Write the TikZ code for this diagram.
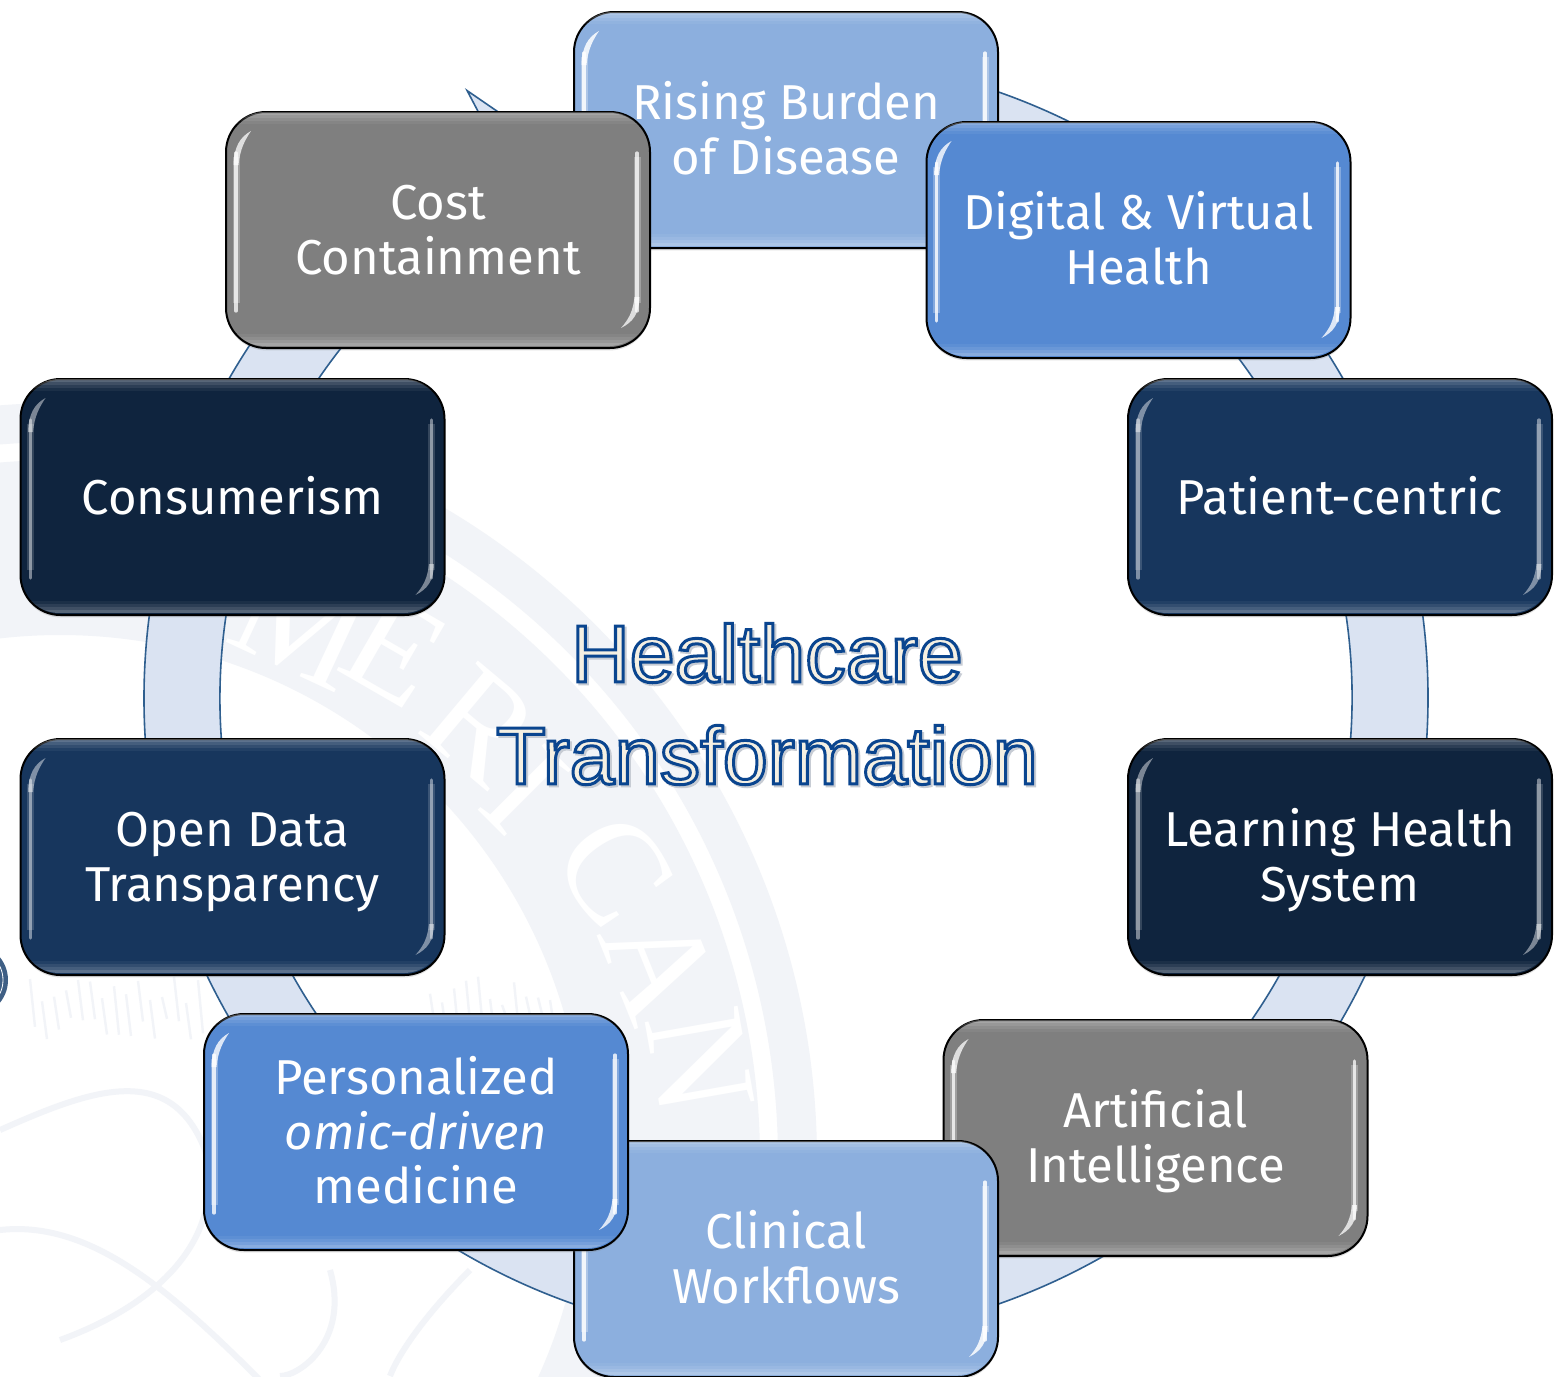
\documentclass[tikz,border=0pt]{standalone}
\usepackage{fontspec}
\setmainfont{Fira Sans}
\newfontfamily\titlefont{Liberation Sans}
\newfontfamily\sealfont{Liberation Serif}
\usepackage{tikz}
\usetikzlibrary{shadows}
\definecolor{risecol}{HTML}{8CAFDE}
\definecolor{digitalcol}{HTML}{5589D2}
\definecolor{patientcol}{HTML}{17365D}
\definecolor{learncol}{HTML}{0F243E}
\definecolor{greycol}{HTML}{7F7F7F}
\definecolor{ringcol}{HTML}{DAE3F2}
\definecolor{ringline}{HTML}{2F5F8F}
\definecolor{sealcol}{HTML}{F2F4F8}
\definecolor{sealdot}{HTML}{3F5F85}
\newcommand{\outlinetext}[3]{\special{pdf:code q 2 Tr 1.5 w #1 RG #2 rg}#3\special{pdf:code Q}}
\newcommand{\topgap}{\rule{0pt}{25pt}}
\begin{document}
\begin{tikzpicture}[x=0.5pt,y=-0.5pt,semithick]
\pgfmathsetseed{7}
\tikzstyle{tile}=[draw=black,line width=1pt,rounded corners=20pt,minimum width=212pt,minimum height=118pt,
  inner sep=0pt,align=center,text=white,font=\fontsize{24.5}{27.3}\selectfont,
  execute at begin node={\rule{0pt}{25pt}},execute at end node={\rule[-8pt]{0pt}{8pt}},
  drop shadow={opacity=.25,shadow xshift=0pt,shadow yshift=-1.2pt}]
\tikzstyle{seal}=[fill=sealcol,draw=none]
\tikzstyle{sealletter}=[text=white,font=\sealfont\fontsize{72}{72}\selectfont,inner sep=0pt]
\tikzstyle{titletext}=[align=center,inner sep=0pt,font=\titlefont\fontsize{40.5}{51}\selectfont]

\path[use as bounding box] (0,0) rectangle (1557,1376);
\fill[white] (0,0) rectangle (1557,1376);

\begin{scope}[shift={(60,1160)},x=0.5pt,y=0.5pt]
\fill[seal,even odd rule] (0,0) circle (757) (0,0) circle (718);
\fill[seal,even odd rule] (0,0) circle (700) (0,0) circle (525);
\end{scope}
\foreach \letter/\px/\py/\rot in {M/300/625/25,E/395/650/30,R/482/725/40,I/525/790/45,C/615/870/55,A/660/965/68,N/700/1062/80}
  \node[sealletter,rotate=-\rot] (seal\letter) at (\px,\py) {\letter};
\foreach \hx in {30,42,...,200,430,442,...,600}
  \draw[sealcol,line width=1.2pt] (\hx,975+30*rnd) -- (\hx+5,1015+25*rnd);
\draw[sealcol,line width=3pt] (0,1130) .. controls (90,1090) and (170,1060) .. (205,1150) .. controls (225,1230) and (170,1300) .. (60,1340);
\draw[sealcol,line width=3pt] (0,1230) .. controls (90,1220) and (170,1290) .. (260,1380);
\draw[sealcol,line width=3pt] (330,1270) .. controls (350,1340) and (300,1376) .. (280,1376);
\draw[sealcol,line width=3pt] (470,1270) .. controls (430,1310) and (400,1350) .. (390,1376);

\fill[sealdot] (-28,980) circle (18pt);
\draw[white,line width=.4pt] (-28,980) circle (15.5pt);

% ring with its head, hidden under the boxes where they overlap
\begin{scope}[shift={(786,698)},x=0.5pt,y=0.5pt]
\draw[fill=ringcol,draw=ringline,line width=0.8pt,line join=miter]
  (88:642) arc (88:-242.3:642) -- (117.7:686) -- (-196,523) -- (117.7:522) -- (117.7:566) arc (-242.3:88:566) -- cycle;
\end{scope}

\foreach \nm/\px/\py/\col/\op/\txt in {
    rising/786/130/risecol/.85/{\topgap Rising Burden\\of Disease},
    digital/1138.5/240/digitalcol/.8/{\topgap Digital \& Virtual\\Health},
    patient/1340/497/patientcol/.45/{Patient-centric},
    learning/1340/857/learncol/.45/{\topgap Learning Health\\System},
    artificial/1155.5/1138/greycol/.75/{\topgap Artificial\\Intelligence},
    clinical/786/1259/risecol/.85/{\topgap Clinical\\Workflows},
    personal/416/1132/digitalcol/.8/{\topgap Personalized\\\textit{omic-driven}\\medicine},
    opendata/232.5/857/patientcol/.45/{\topgap Open Data\\Transparency},
    consumer/232.5/497/learncol/.45/{Consumerism},
    cost/438/230/greycol/.75/{\topgap Cost\\Containment}} {
  \node[tile,fill=\col] (\nm) at (\px,\py) {\txt};
  \begin{scope}[shift={(\nm.north west)}]
  \begin{scope}
  \clip[rounded corners=20pt] (0,1) rectangle (424,235);
  \foreach \ins/\rim in {1/.3,4/.2,7/.12,10/.05} {
    \fill[white,opacity=\rim] (0,\ins) rectangle (424,\ins+3);
    \fill[white,opacity=\rim] (0,236-\ins-3) rectangle (424,236-\ins);
  }
  \end{scope}
  \foreach \barx in {11,412} {
    \draw[white,opacity=.35*\op,line width=3.5pt] (\barx,46) -- (\barx,192);
    \draw[white,opacity=\op,line width=1.6pt,line cap=round] (\barx,42) -- (\barx,200);
  }
  \fill[white,opacity=\op] (8.5,54) .. controls (9,36) and (15,26) .. (26,20) .. controls (20,29) and (15,38) .. (13.5,54) -- cycle;
  \fill[white,opacity=\op] (414.5,186) .. controls (414,203) and (408,211) .. (396,217) .. controls (404,208) and (408,200) .. (409.5,186) -- cycle;
  \end{scope}
}

\node[titletext] (titleshadow) at (769,706) {\outlinetext{0.78 0.8 0.83}{0.78 0.8 0.83}{Healthcare\\Transformation}};
\node[titletext] (title) at (767,704) {\outlinetext{0.04 0.27 0.56}{0.96 0.94 0.89}{Healthcare\\Transformation}};
\end{tikzpicture}
\end{document}
